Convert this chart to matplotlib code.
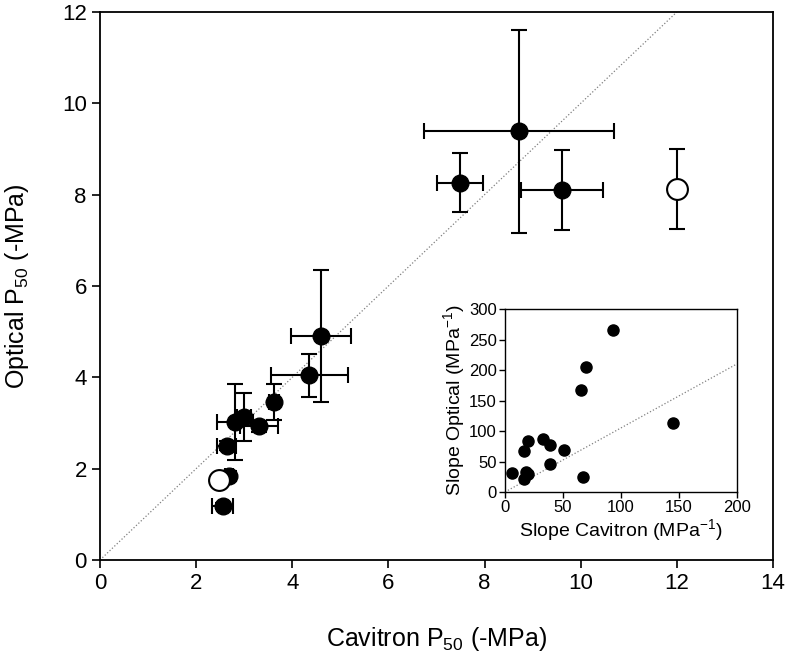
import matplotlib
matplotlib.use("Agg")
import matplotlib.pyplot as plt

plt.rcParams['font.family'] = ['Liberation Sans', 'DejaVu Sans']
plt.rcParams['mathtext.fontset'] = 'custom'
plt.rcParams['mathtext.rm'] = 'Liberation Sans'
plt.rcParams['mathtext.it'] = 'Liberation Sans:italic'
plt.rcParams['mathtext.bf'] = 'Liberation Sans:bold'
plt.rcParams['mathtext.default'] = 'regular'

# Main panel data (filled points)
cav_p50 = [2.55, 2.68, 2.64, 2.81, 3.00, 3.31, 3.62, 4.35, 4.60, 7.49, 8.72, 9.61]
opt_p50 = [1.18, 1.84, 2.50, 3.02, 3.13, 2.93, 3.46, 4.05, 4.90, 8.26, 9.39, 8.10]
cav_err = [0.22, 0.08, 0.20, 0.37, 0.15, 0.39, 0.10, 0.80, 0.62, 0.48, 1.97, 0.86]
opt_err = [0.06, 0.10, 0.10, 0.84, 0.52, 0.12, 0.40, 0.47, 1.45, 0.65, 2.22, 0.88]

# Open points
open_cav = [2.48, 12.0]
open_opt = [1.75, 8.12]
open_opt_err = [0.0, 0.87]

# Inset data
slope_cav = [5.7, 16.7, 18.1, 20.0, 16.4, 19.5, 32.5, 38.8, 38.8, 50.9, 67.2, 65.5, 69.8, 93.4, 144.6]
slope_opt = [31.6, 20.8, 33.0, 29.5, 67.7, 83.6, 86.3, 76.5, 45.9, 68.3, 24.6, 167, 205, 265.6, 112.6]
inset_line_x = [0, 200]
inset_line_y = [0, 210]

fig = plt.figure(figsize=(7.89, 6.59), dpi=100)
ax = fig.add_axes([0.1267, 0.1502, 0.853, 0.8316])

ax.plot([0, 12], [0, 12], linestyle=':', color='gray', lw=0.9, zorder=1)
ax.errorbar(cav_p50, opt_p50, xerr=cav_err, yerr=opt_err, fmt='o', color='black',
            ms=12, ecolor='black', elinewidth=1.5, capsize=6, capthick=1.5, zorder=3)
ax.errorbar(open_cav, open_opt, yerr=open_opt_err, fmt='o', mfc='white', mec='black',
            mew=1.5, ms=15, ecolor='black', elinewidth=1.5, capsize=6, capthick=1.5, zorder=4)

ax.set_xlim(0, 14)
ax.set_ylim(0, 12)
ax.set_xticks(range(0, 15, 2))
ax.set_yticks(range(0, 13, 2))
ax.tick_params(direction='out', length=6, width=1.2, labelsize=16, top=False, right=False)
for s in ax.spines.values():
    s.set_linewidth(1.3)
ax.set_xlabel('Cavitron P$_{50}$ (-MPa)', fontsize=18, labelpad=22)
ax.set_ylabel('Optical P$_{50}$ (-MPa)', fontsize=18, labelpad=22)

ins = fig.add_axes([0.640, 0.2534, 0.294, 0.2777])
ins.plot(inset_line_x, inset_line_y, linestyle=':', color='gray', lw=0.9, zorder=1)
ins.plot(slope_cav, slope_opt, 'o', color='black', ms=8, zorder=3)
ins.set_xlim(0, 200)
ins.set_ylim(0, 300)
ins.set_xticks(range(0, 201, 50))
ins.set_yticks(range(0, 301, 50))
ins.tick_params(direction='out', length=4, width=1.0, labelsize=12, top=False, right=False, pad=2)
for s in ins.spines.values():
    s.set_linewidth(1.0)
ins.set_xlabel('Slope Cavitron (MPa$^{-1}$)', fontsize=14, labelpad=1)
ins.set_ylabel('Slope Optical (MPa$^{-1}$)', fontsize=14, labelpad=1)

fig.savefig('out.png', dpi=100)
